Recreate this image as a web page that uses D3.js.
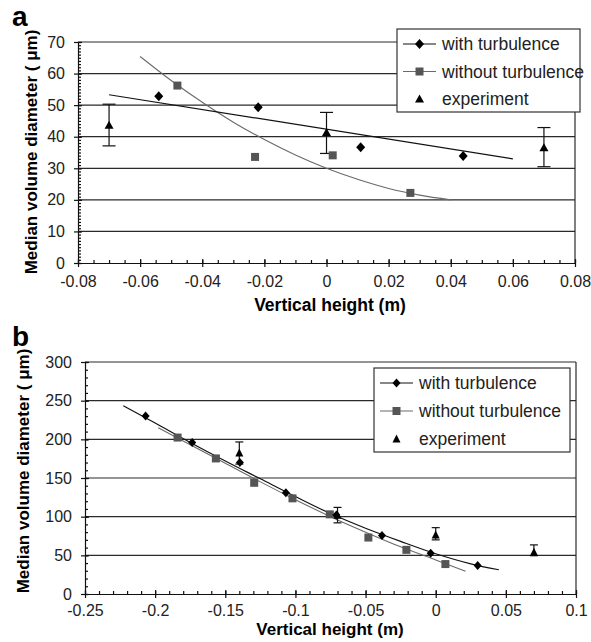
<!DOCTYPE html>
<html>
<head>
<meta charset="utf-8">
<script src="https://cdn.jsdelivr.net/npm/d3@7"></script>
<style>
  body { margin: 0; background: #fff; }
  text { font-family: "Liberation Sans", Arial, sans-serif; }
</style>
</head>
<body>
<div id="chart"></div>
<script>
/* Median volume diameter vs vertical height, two panels (a, b) */

// ---- panel a data ----
const aXTicks = [-0.08, -0.06, -0.04, -0.02, 0, 0.02, 0.04, 0.06, 0.08];
const aYTicks = [0, 10, 20, 30, 40, 50, 60, 70];

const aWithX = [-0.054, -0.022, 0.011, 0.044];
const aWithY = [52.8, 49.3, 36.7, 33.9];
const aWithoutX = [-0.048, -0.023, 0.002, 0.027];
const aWithoutY = [56.2, 33.6, 34.1, 22.2];
const aExpX = [-0.07, 0, 0.07];
const aExpY = [43.7, 41.4, 36.5];
const aExpLo = [37.1, 34.7, 30.5];
const aExpHi = [50.3, 47.7, 42.9];
// trend lines
const aWithTrendX = [-0.07, 0.06];
const aWithTrendY = [53.3, 33.0];
const aWithoutTrendX = [-0.06, -0.05, -0.04, -0.03, -0.02, -0.01, 0, 0.01, 0.02, 0.03, 0.04];
const aWithoutTrendY = [65.4, 57.8, 50.9, 44.6, 39.1, 34.2, 30, 26.5, 23.6, 21.5, 20];

// ---- panel b data ----
const bXTicks = [-0.25, -0.2, -0.15, -0.1, -0.05, 0, 0.05, 0.1];
const bYTicks = [0, 50, 100, 150, 200, 250, 300];

const bWithX = [-0.2068, -0.1736, -0.1396, -0.1068, -0.0708, -0.0383, -0.0036, 0.0299];
const bWithY = [230.2, 195.9, 170.1, 130.9, 102.2, 75.5, 52.8, 36.9];
const bWithoutX = [-0.184, -0.1567, -0.1294, -0.1021, -0.0755, -0.048, -0.0209, 0.0069];
const bWithoutY = [202.3, 175.3, 143.8, 123.7, 103, 73, 57.1, 38.7];
const bExpX = [-0.14, -0.07, 0, 0.07];
const bExpY = [182.5, 102, 76.4, 54];
const bExpLo = [168, 92, 70, 49.5];
const bExpHi = [196.6, 112, 85.8, 63.5];
const bWithTrendX = [-0.2227, -0.2, -0.175, -0.15, -0.125, -0.1, -0.075, -0.05, -0.025, 0, 0.025, 0.045];
const bWithTrendY = [243.5, 221, 196, 172, 149, 126, 104, 85, 68, 52, 39, 31.3];
const bWithoutTrendX = [-0.1978, -0.175, -0.15, -0.125, -0.1, -0.075, -0.05, -0.025, 0, 0.0213];
const bWithoutTrendY = [215, 193, 169, 145, 122, 100, 80, 61, 44, 29.5];

const legendNames = ["with turbulence", "without turbulence", "experiment"];
const yTitle = "Median volume diameter ( \u03bcm)";
const xTitle = "Vertical height (m)";

const width = 591, height = 642;

const svg = d3.select("#chart")
    .append("svg")
    .attr("width", width)
    .attr("height", height);

svg.append("rect").attr("width", width).attr("height", height).attr("fill", "#fff");

const zip = (xs, ys) => xs.map((x, i) => ({ x: x, y: ys[i] }));
const fmt = d => String(+d.toFixed(2));

function diamondPath(w, h) {
    return `M0,${-h / 2}L${w / 2},0L0,${h / 2}L${-w / 2},0Z`;
}
function squarePath(s) {
    return `M${-s / 2},${-s / 2}h${s}v${s}h${-s}Z`;
}
function trianglePath(w, h) {
    return `M0,${-h * 0.55}L${w / 2},${h * 0.45}L${-w / 2},${h * 0.45}Z`;
}

function panel(c) {
    const g = svg.append("g");

    let x = d3.scaleLinear().domain(c.xDomain).range([c.left, c.right]);
    let y = d3.scaleLinear().domain(c.yDomain).range([c.bottom, c.top]);

    // horizontal gridlines
    g.append("g").selectAll("line")
        .data(c.yTicks.filter(d => d > c.yDomain[0]))
        .join("line")
        .attr("x1", c.left).attr("x2", c.right)
        .attr("y1", d => y(d)).attr("y2", d => y(d))
        .attr("stroke", "#2a2a2a").attr("stroke-width", 1.2);

    // right border
    g.append("line")
        .attr("x1", c.right).attr("x2", c.right)
        .attr("y1", c.top).attr("y2", c.bottom)
        .attr("stroke", "#2a2a2a").attr("stroke-width", 1.2);

    const line = d3.line().x(d => x(d.x)).y(d => y(d.y)).curve(d3.curveMonotoneX);

    // trend lines
    g.append("path")
        .datum(zip(c.withoutTrendX, c.withoutTrendY))
        .attr("d", line)
        .attr("fill", "none").attr("stroke", "#6a6a6a").attr("stroke-width", 1.1);
    g.append("path")
        .datum(zip(c.withTrendX, c.withTrendY))
        .attr("d", line)
        .attr("fill", "none").attr("stroke", "#111").attr("stroke-width", 1.2);

    // error bars for experiment
    let exp = c.expX.map((d, i) => ({ x: d, y: c.expY[i], lo: c.expLo[i], hi: c.expHi[i] }));
    let eb = g.append("g").selectAll("g").data(exp).join("g");
    eb.append("line")
        .attr("x1", d => x(d.x)).attr("x2", d => x(d.x))
        .attr("y1", d => y(d.lo)).attr("y2", d => y(d.hi))
        .attr("stroke", "#111").attr("stroke-width", 1.2);
    eb.append("line")
        .attr("x1", d => x(d.x) - c.cap / 2).attr("x2", d => x(d.x) + c.cap / 2)
        .attr("y1", d => y(d.lo)).attr("y2", d => y(d.lo))
        .attr("stroke", "#111").attr("stroke-width", 1.2);
    eb.append("line")
        .attr("x1", d => x(d.x) - c.cap / 2).attr("x2", d => x(d.x) + c.cap / 2)
        .attr("y1", d => y(d.hi)).attr("y2", d => y(d.hi))
        .attr("stroke", "#111").attr("stroke-width", 1.2);

    // markers
    g.append("g").selectAll("path")
        .data(zip(c.withoutX, c.withoutY))
        .join("path")
        .attr("d", squarePath(c.sq))
        .attr("transform", d => `translate(${x(d.x)},${y(d.y)})`)
        .attr("fill", "#555");
    g.append("g").selectAll("path")
        .data(zip(c.withX, c.withY))
        .join("path")
        .attr("d", diamondPath(c.dw, c.dh))
        .attr("transform", d => `translate(${x(d.x)},${y(d.y)})`)
        .attr("fill", "#000");
    g.append("g").selectAll("path")
        .data(exp)
        .join("path")
        .attr("d", trianglePath(c.tw, c.th))
        .attr("transform", d => `translate(${x(d.x)},${y(d.y)})`)
        .attr("fill", "#000");

    // axes: major ticks crossing the line, minor ticks inside
    const xMinor = d3.range(c.xDomain[0], c.xDomain[1] + c.xMinorStep / 2, c.xMinorStep);
    const yMinor = d3.range(c.yDomain[0], c.yDomain[1] + c.yMinorStep / 2, c.yMinorStep);

    let xa = g.append("g")
        .attr("transform", `translate(0,${c.bottom})`)
        .call(d3.axisBottom(x).tickValues(c.xTicks).tickSize(4).tickSizeOuter(0)
            .tickPadding(c.xPad).tickFormat(fmt));
    g.append("g")
        .attr("transform", `translate(0,${c.bottom})`)
        .call(d3.axisBottom(x).tickValues(c.xTicks).tickSize(-4).tickFormat(""))
        .call(s => s.select(".domain").remove());
    g.append("g")
        .attr("transform", `translate(0,${c.bottom})`)
        .call(d3.axisBottom(x).tickValues(xMinor).tickSize(-3).tickFormat(""))
        .call(s => s.select(".domain").remove());

    let ya = g.append("g")
        .attr("transform", `translate(${c.left},0)`)
        .call(d3.axisLeft(y).tickValues(c.yTicks).tickSize(4).tickSizeOuter(0)
            .tickPadding(c.yPad));
    g.append("g")
        .attr("transform", `translate(${c.left},0)`)
        .call(d3.axisLeft(y).tickValues(c.yTicks).tickSize(-4).tickFormat(""))
        .call(s => s.select(".domain").remove());
    g.append("g")
        .attr("transform", `translate(${c.left},0)`)
        .call(d3.axisLeft(y).tickValues(yMinor).tickSize(-3).tickFormat(""))
        .call(s => s.select(".domain").remove());

    g.selectAll(".domain, .tick line").attr("stroke", "#111").attr("stroke-width", 1.2);
    [xa, ya].forEach(a => a.attr("font-size", c.tickFont)
        .attr("font-family", "'Liberation Sans', Arial, sans-serif")
        .selectAll("text").attr("fill", "#222"));

    // titles
    g.append("text")
        .attr("x", c.xTitleX).attr("y", c.xTitleY)
        .attr("text-anchor", "middle")
        .attr("font-weight", "bold").attr("font-size", c.xTitleFont)
        .text(xTitle);
    g.append("text")
        .attr("transform", `translate(${c.yTitleX},${c.yTitleY}) rotate(-90)`)
        .attr("text-anchor", "middle").attr("dy", "0.35em")
        .attr("font-weight", "bold").attr("font-size", c.yTitleFont)
        .text(yTitle);
    g.append("text")
        .attr("x", c.labelX).attr("y", c.labelY)
        .attr("font-weight", "bold").attr("font-size", 28)
        .text(c.label);

    // legend
    const L = c.legend;
    let lg = g.append("g").attr("transform", `translate(${L.x},${L.y})`);
    lg.append("rect")
        .attr("width", L.w).attr("height", L.h)
        .attr("fill", "#fff").attr("stroke", "#333").attr("stroke-width", 1.2);
    legendNames.forEach((name, i) => {
        let ry = L.row0 + i * L.rowStep;
        if (i < 2) {
            lg.append("line")
                .attr("x1", L.lineX0).attr("x2", L.lineX1)
                .attr("y1", ry).attr("y2", ry)
                .attr("stroke", i === 0 ? "#111" : "#6a6a6a").attr("stroke-width", 1.2);
        }
        let mx = (L.lineX0 + L.lineX1) / 2;
        lg.append("path")
            .attr("d", i === 0 ? diamondPath(c.dw, c.dh) : i === 1 ? squarePath(c.sq) : trianglePath(c.tw, c.th))
            .attr("transform", `translate(${mx},${ry})`)
            .attr("fill", i === 1 ? "#555" : "#000");
        lg.append("text")
            .attr("x", L.textX).attr("y", ry).attr("dy", "0.36em")
            .attr("font-size", L.font).attr("fill", "#222")
            .text(name);
    });
}

panel({
    label: "a", labelX: 12, labelY: 26,
    xDomain: [-0.08, 0.08], yDomain: [0, 70],
    left: 78, right: 575, top: 42, bottom: 263,
    xTicks: aXTicks, yTicks: aYTicks, xMinorStep: 0.005, yMinorStep: 1,
    xPad: 9, yPad: 9, tickFont: 16, xTitleFont: 17.5, yTitleFont: 17,
    xTitleX: 330, xTitleY: 311, yTitleX: 31, yTitleY: 152,
    withX: aWithX, withY: aWithY, withoutX: aWithoutX, withoutY: aWithoutY,
    expX: aExpX, expY: aExpY, expLo: aExpLo, expHi: aExpHi,
    withTrendX: aWithTrendX, withTrendY: aWithTrendY,
    withoutTrendX: aWithoutTrendX, withoutTrendY: aWithoutTrendY,
    cap: 13, sq: 8, dw: 9, dh: 10, tw: 9, th: 8,
    legend: { x: 397, y: 29, w: 183, h: 83, row0: 15, rowStep: 27.5,
              lineX0: 6, lineX1: 39, textX: 45, font: 17.5 }
});

panel({
    label: "b", labelX: 12, labelY: 346,
    xDomain: [-0.25, 0.1], yDomain: [0, 300],
    left: 85, right: 576, top: 362, bottom: 594,
    xTicks: bXTicks, yTicks: bYTicks, xMinorStep: 0.01, yMinorStep: 10,
    xPad: 7, yPad: 9, tickFont: 16, xTitleFont: 17, yTitleFont: 17,
    xTitleX: 330, xTitleY: 635, yTitleX: 23, yTitleY: 471,
    withX: bWithX, withY: bWithY, withoutX: bWithoutX, withoutY: bWithoutY,
    expX: bExpX, expY: bExpY, expLo: bExpLo, expHi: bExpHi,
    withTrendX: bWithTrendX, withTrendY: bWithTrendY,
    withoutTrendX: bWithoutTrendX, withoutTrendY: bWithoutTrendY,
    cap: 8, sq: 8, dw: 8, dh: 9, tw: 8, th: 8,
    legend: { x: 374, y: 368, w: 196, h: 84, row0: 15, rowStep: 28,
              lineX0: 6, lineX1: 39, textX: 45, font: 17.5 }
});
</script>
</body>
</html>
